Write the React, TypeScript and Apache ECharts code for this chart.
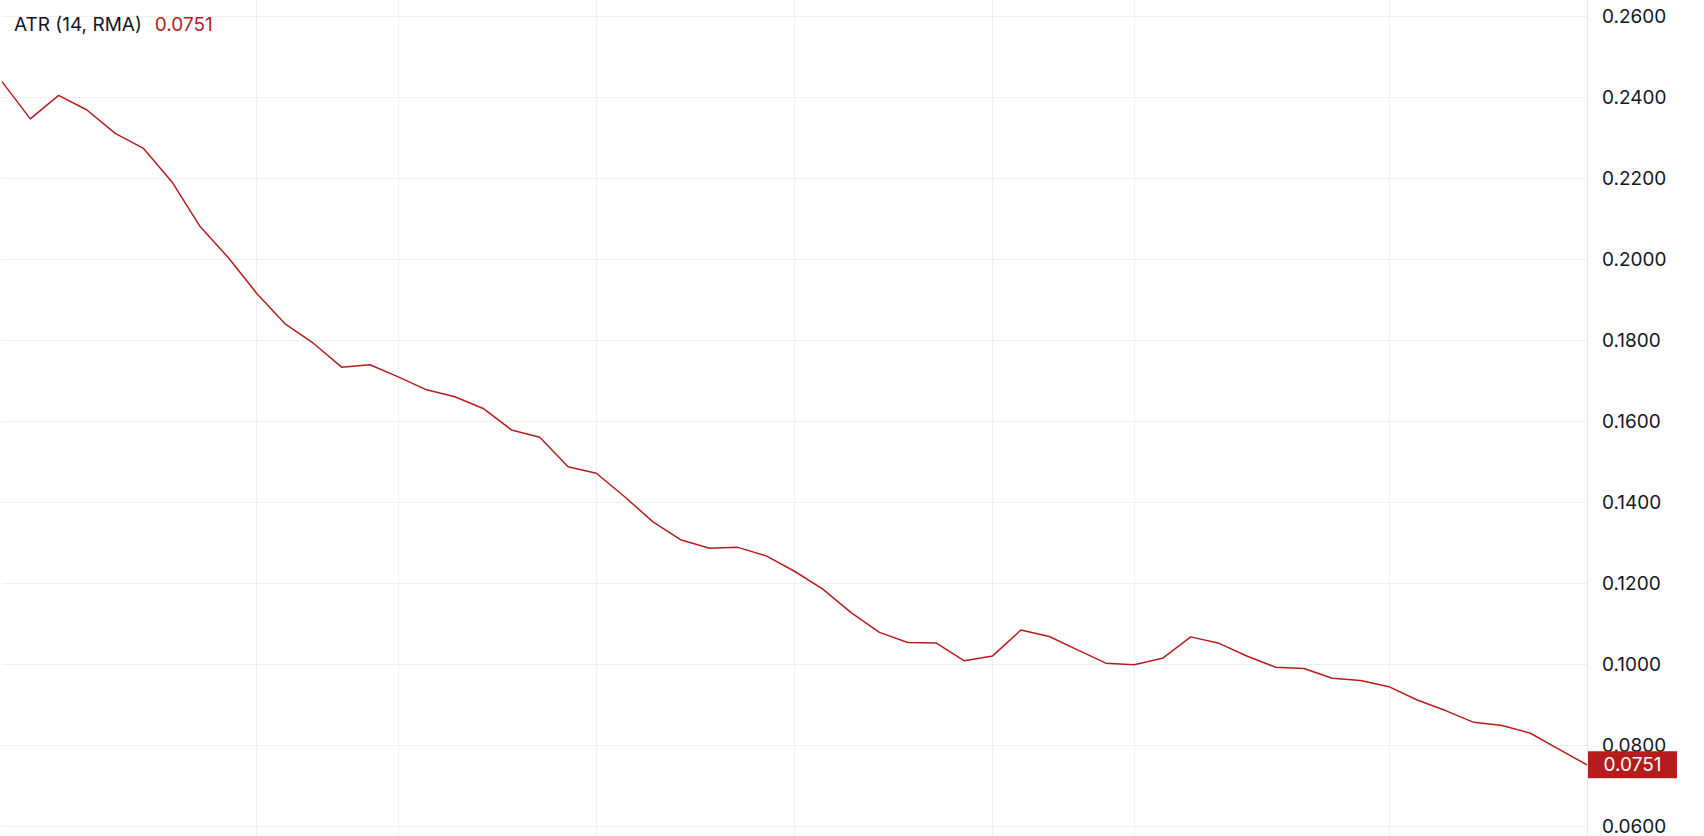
import { useEffect, useRef } from "react";
import * as echarts from "echarts";

const LINE = "#b71c1c";
const TEXT = "#131722";
const GRID = "#f0f0f0";
const FONT = 'Inter, "Noto Sans", sans-serif';

// ATR (14, RMA)，按 K 线顺序读取
const ATR = [
  0.2438, 0.2346, 0.2404, 0.2368, 0.231, 0.2273, 0.2191, 0.208, 0.2003, 0.1915,
  0.184, 0.1792, 0.1733, 0.1739, 0.1709, 0.1677, 0.166, 0.1631, 0.1578, 0.156,
  0.1487, 0.1471, 0.1413, 0.1351, 0.1306, 0.1286, 0.1288, 0.1267, 0.1229, 0.1185,
  0.1127, 0.1078, 0.1053, 0.1052, 0.1008, 0.102, 0.1084, 0.1068, 0.1035, 0.1002,
  0.0998, 0.1014, 0.1067, 0.1051, 0.1019, 0.0992, 0.0989, 0.0965, 0.0959, 0.0944,
  0.0911, 0.0885, 0.0856, 0.0848, 0.0829, 0.079, 0.0751,
];
const BARS = ATR.map((_, i) => String(i + 1));
// 竖向网格线所在的 K 线序号（时间刻度）
const TIME_TICKS = [9, 14, 21, 28, 35, 40, 49];
const Y_MIN = 0.04;
const Y_MAX = 0.28;
const Y_STEP = 0.02;

export default function App() {
  const elRef = useRef<HTMLDivElement>(null);

  useEffect(() => {
    document.body.style.margin = "0";
    const el = elRef.current;
    if (!el) return;
    const chart = echarts.init(el, null, { renderer: "svg" });
    const last = ATR[ATR.length - 1];

    chart.setOption({
      animation: false,
      backgroundColor: "#ffffff",
      textStyle: { fontFamily: FONT },
      title: {
        left: 9,
        top: 10,
        text: `{n|ATR (14, RMA)}{v|${last.toFixed(4)}}`,
        textStyle: {
          fontWeight: "normal",
          rich: {
            n: { fontFamily: FONT, fontSize: 19, fontWeight: "normal", color: TEXT },
            v: { fontFamily: FONT, fontSize: 19, fontWeight: "normal", color: LINE, padding: [0, 0, 0, 13] },
          },
        },
      },
      // 上下留出半格，超出画布的部分被裁掉
      grid: { left: 2, right: 117, top: -65, bottom: -71, outerBoundsMode: "none" },
      xAxis: {
        type: "category",
        data: BARS,
        boundaryGap: false,
        axisLine: { show: false },
        axisTick: { show: false },
        axisLabel: { show: false },
        splitLine: {
          show: true,
          interval: (idx: number) => TIME_TICKS.includes(idx),
          lineStyle: { color: GRID, width: 1 },
        },
      },
      yAxis: {
        type: "value",
        position: "right",
        min: Y_MIN,
        max: Y_MAX,
        interval: Y_STEP,
        axisLine: { show: true, lineStyle: { color: "#e6e6e6" } },
        axisTick: { show: false },
        splitLine: { lineStyle: { color: GRID, width: 1 } },
        axisLabel: {
          color: TEXT,
          fontFamily: FONT,
          fontSize: 19,
          margin: 15,
          showMinLabel: false,
          showMaxLabel: false,
          formatter: (v: number) => v.toFixed(4),
        },
      },
      series: [
        {
          name: "ATR",
          type: "line",
          data: ATR,
          showSymbol: false,
          clip: false,
          lineStyle: { color: LINE, width: 1.5 },
          markPoint: {
            silent: true,
            symbol: "rect",
            symbolSize: [89, 27],
            symbolOffset: [45.5, 0],
            itemStyle: { color: LINE },
            label: {
              show: true,
              position: "inside",
              color: "#ffffff",
              fontFamily: FONT,
              fontSize: 19,
              formatter: () => last.toFixed(4),
            },
            data: [{ coord: [BARS.length - 1, last] }],
          },
        },
      ],
    });

    return () => chart.dispose();
  }, []);

  return <div ref={elRef} style={{ width: 1704, height: 836 }} />;
}
